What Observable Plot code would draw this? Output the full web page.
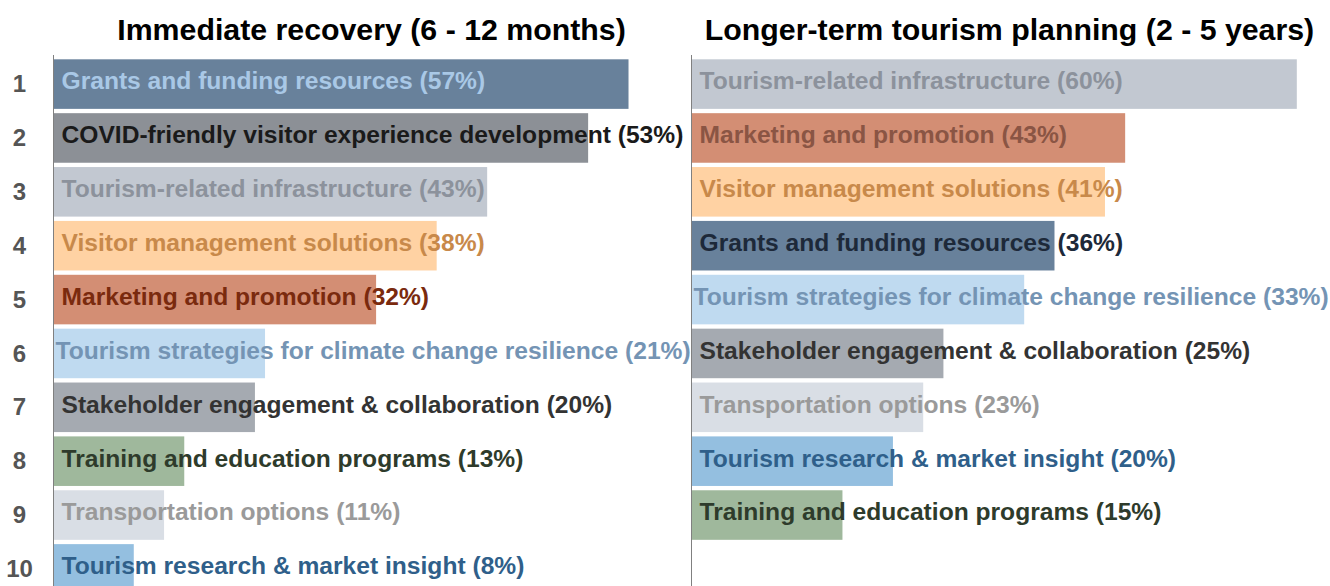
<!DOCTYPE html>
<html>
<head>
<meta charset="utf-8">
<script src="https://cdn.jsdelivr.net/npm/d3@7"></script>
<script src="https://cdn.jsdelivr.net/npm/@observablehq/plot@0.6"></script>
<style>
  html, body { margin: 0; padding: 0; background: #fff; overflow: hidden; width: 1330px; height: 586px; }
  #wrap { position: relative; width: 1330px; height: 586px; }
  #wrap svg { position: absolute; top: 0; overflow: visible; }
</style>
</head>
<body>
<div id="wrap"></div>
<script>
// ---- Data ----
const panelTitles = ["Immediate recovery (6 - 12 months)", "Longer-term tourism planning (2 - 5 years)"];
const ranks = [1, 2, 3, 4, 5, 6, 7, 8, 9, 10];

const leftCategories = [
  "Grants and funding resources",
  "COVID-friendly visitor experience development",
  "Tourism-related infrastructure",
  "Visitor management solutions",
  "Marketing and promotion",
  "Tourism strategies for climate change resilience",
  "Stakeholder engagement & collaboration",
  "Training and education programs",
  "Transportation options",
  "Tourism research & market insight"
];
const leftValues = [57, 53, 43, 38, 32, 21, 20, 13, 11, 8];

const rightCategories = [
  "Tourism-related infrastructure",
  "Marketing and promotion",
  "Visitor management solutions",
  "Grants and funding resources",
  "Tourism strategies for climate change resilience",
  "Stakeholder engagement & collaboration",
  "Transportation options",
  "Tourism research & market insight",
  "Training and education programs"
];
const rightValues = [60, 43, 41, 36, 33, 25, 23, 20, 15];

// ---- Styles ----
const barColor = {
  "Grants and funding resources": "#68819b",
  "COVID-friendly visitor experience development": "#8c9096",
  "Tourism-related infrastructure": "#c2c8d1",
  "Visitor management solutions": "#ffd2a3",
  "Marketing and promotion": "#d38e74",
  "Tourism strategies for climate change resilience": "#bfdaf0",
  "Stakeholder engagement & collaboration": "#a5aab1",
  "Training and education programs": "#9fb89c",
  "Transportation options": "#d9dee5",
  "Tourism research & market insight": "#94bfe0"
};
const textColor = {
  "Grants and funding resources": "#a9c8e6",
  "COVID-friendly visitor experience development": "#1a1a1a",
  "Tourism-related infrastructure": "#8c929c",
  "Visitor management solutions": "#c8894a",
  "Marketing and promotion": "#7a2a0e",
  "Tourism strategies for climate change resilience": "#7494b4",
  "Stakeholder engagement & collaboration": "#333333",
  "Training and education programs": "#2e3b2b",
  "Transportation options": "#9a9a9a",
  "Tourism research & market insight": "#2f5f8a"
};
const textColorRight = Object.assign({}, textColor, {
  "Grants and funding resources": "#1d2939",
  "Marketing and promotion": "#8a5544"
});

const FONT = "'Liberation Sans', Arial, sans-serif";

function panel(cats, vals, title, colors, showRanks, left, width, mr) {
  const rows = cats.map((c, i) => ({rank: ranks[i], cat: c, value: vals[i]}));
  const isLong = d => d.cat.startsWith("Tourism strategies");
  const marks = [
    Plot.barX(rows, {x: "value", y: "rank", fill: d => barColor[d.cat]}),
    Plot.ruleX([0], {stroke: "#808080", strokeWidth: 1}),
    Plot.text(rows.filter(d => !isLong(d)), {
      x: 0, y: "rank", text: d => `${d.cat} (${d.value}%)`, textAnchor: "start",
      dx: 8, dy: -3, fill: d => colors[d.cat], fontSize: 24.6, fontWeight: "bold", fontFamily: FONT
    }),
    Plot.text(rows.filter(isLong), {
      x: 0, y: "rank", text: d => `${d.cat} (${d.value}%)`, textAnchor: "start",
      dx: 2, dy: -3, fill: d => colors[d.cat], fontSize: 24.6, fontWeight: "bold", fontFamily: FONT
    }),
    Plot.text([title], {
      frameAnchor: "top", lineAnchor: "middle", dy: -25, dx: 5, text: d => d, fontSize: 30.3, fontWeight: "bold",
      fill: "#000", fontFamily: FONT
    })
  ];
  if (showRanks) {
    marks.push(Plot.text(ranks, {
      y: d => d, frameAnchor: "left", lineAnchor: "middle", dx: -34, text: d => String(d), textAnchor: "middle",
      fontSize: 24, fontWeight: "bold", fill: "#555555", fontFamily: FONT
    }));
  }
  const svg = Plot.plot({
    width, height: 586,
    marginLeft: 53, marginRight: mr, marginTop: 55, marginBottom: 0,
    x: {domain: [0, 62], axis: null},
    y: {domain: ranks, range: [55, 598], padding: 0.08, round: false, axis: null},
    color: {type: "identity"},
    style: {fontFamily: FONT, background: "transparent", overflow: "visible"},
    marks
  });
  svg.style.left = left + "px";
  return svg;
}

const wrap = document.getElementById("wrap");
wrap.appendChild(panel(leftCategories, leftValues, panelTitles[0], textColor, true, 0, 679, 0));
wrap.appendChild(panel(rightCategories, rightValues, panelTitles[1], textColorRight, false, 638, 692, 13));
</script>
</body>
</html>
